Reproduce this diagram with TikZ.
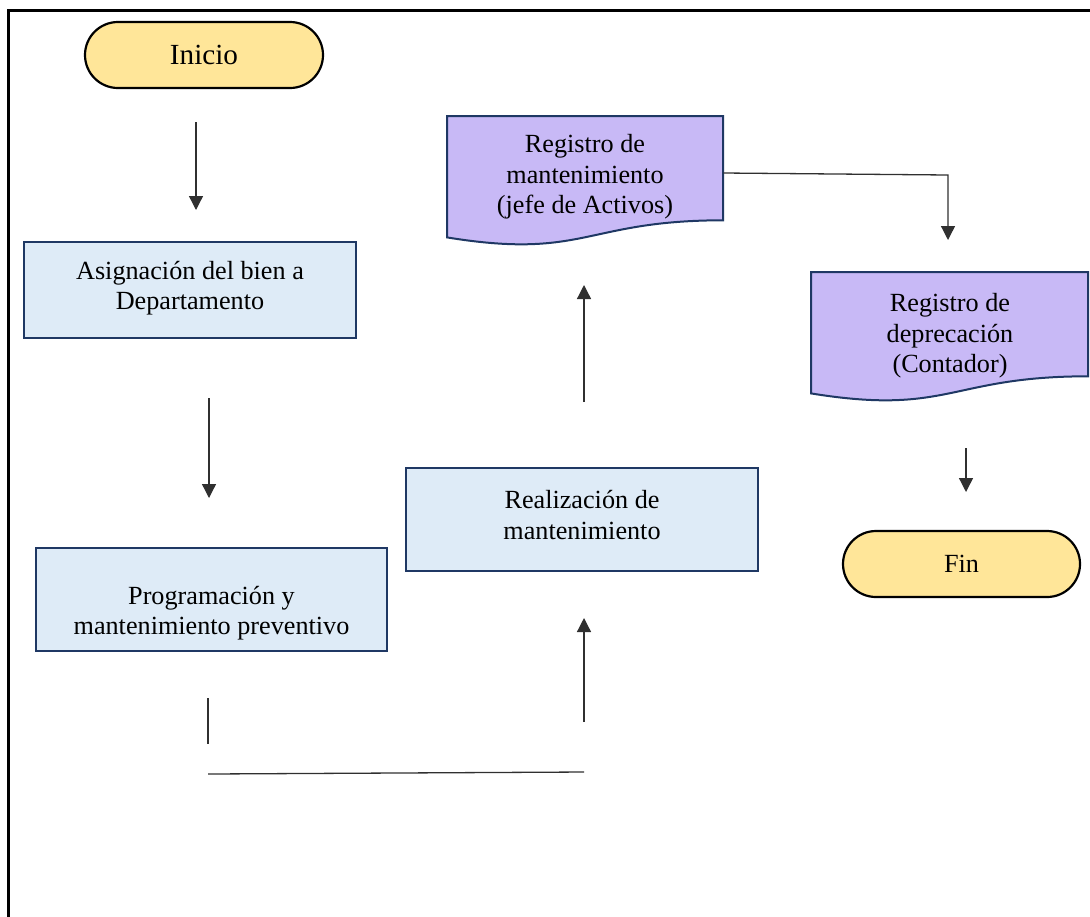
\documentclass[tikz,border=0pt]{standalone}
\usepackage{fontspec}
\setmainfont{Liberation Serif}
\usetikzlibrary{shapes.misc,arrows.meta,backgrounds}
\definecolor{termfill}{HTML}{FFE699}
\definecolor{procfill}{HTML}{DEEBF7}
\definecolor{navy}{HTML}{1F3864}
\definecolor{docfill}{HTML}{C8B9F6}
\definecolor{linegray}{HTML}{303030}
\tikzset{
  term/.style={rounded rectangle, draw=black, line width=1.1pt, fill=termfill, inner sep=0pt,
    font=\fontsize{13.1pt}{15.2pt}\selectfont},
  procbox/.style={rectangle, draw=navy, line width=1pt, fill=procfill, inner sep=0pt},
  docarea/.style={rectangle, draw=none, inner sep=0pt},
  docline/.style={draw=navy, line width=1pt, fill=docfill},
  txt/.style={align=center, inner sep=0pt, font=\fontsize{13.1pt}{15.2pt}\selectfont},
  conn/.style={draw=linegray, line width=0.65pt},
  arr/.style={conn, -{Triangle[length=7pt,width=7pt]}},
}
\begin{document}
\begin{tikzpicture}[x=0.5pt,y=-0.5pt]
\useasboundingbox (0,0) rectangle (1090,916);
\clip (0,0) rectangle (1090,916);
\draw[line width=1.3pt] (8.5,10.5) rectangle (1200,1000);

% terminators
\node[term, minimum width=119pt, minimum height=33pt, font=\fontsize{14.6pt}{16pt}\selectfont] (inicio) at (204,55) {Inicio};
\node[term, minimum width=118.5pt, minimum height=33pt] (fin) at (961.5,564) {Fin};

% process boxes
\node[procbox, minimum width=166pt, minimum height=48pt] (asig) at (190,290) {};
\node[txt] (asigt) at (190,288) {Asignación del bien a\\Departamento};

\node[procbox, minimum width=175.5pt, minimum height=51.5pt] (prog) at (211.5,599.5) {};
\node[txt] (progt) at (211.5,613) {Programación y\\mantenimiento preventivo};

\node[procbox, minimum width=176pt, minimum height=51.5pt] (real) at (582,519.5) {};
\node[txt] (realt) at (582,515) {Realización de\\mantenimiento};

% documents
\node[docarea, minimum width=138pt, minimum height=57pt] (d1) at (585,173) {};
\node[docarea, minimum width=138.5pt, minimum height=57pt] (d2) at (949.5,329) {};
\begin{scope}[on background layer]
\draw[docline] (447,116) -- (723,116) -- (723,220.3)
  .. controls (585,220.3) and (585,259.9) .. (447,237.4) -- cycle;
\draw[docline] (811,272) -- (1088,272) -- (1088,376.3)
  .. controls (949.5,376.3) and (949.5,415.9) .. (811,393.4) -- cycle;
\end{scope}
\node[txt] (d1t) at (585,177) {Registro de\\mantenimiento\\(jefe de Activos)};
\node[txt] (d2t) at (950,336) {Registro de\\deprecación\\(Contador)};

% connector end points
\coordinate (a1s) at (196,122);
\coordinate (a1e) at (196,210);
\coordinate (a2s) at (209,398);
\coordinate (a2e) at (209,498);
\coordinate (l1s) at (208,698);
\coordinate (l1e) at (208,744);
\coordinate (hs) at (208,774);
\coordinate (he) at (584,772);
\coordinate (a3s) at (584,722);
\coordinate (a3e) at (584,618);
\coordinate (a4s) at (584,402);
\coordinate (a4e) at (584,285);
\coordinate (bend) at (948,175);
\coordinate (a5e) at (948,240);
\coordinate (a6s) at (966,448);
\coordinate (a6e) at (966,492);

\draw[arr] (a1s) -- (a1e);
\draw[arr] (a2s) -- (a2e);
\draw[conn] (l1s) -- (l1e);
\draw[conn] (hs) -- (he);
\draw[arr] (a3s) -- (a3e);
\draw[arr] (a4s) -- (a4e);
\draw[arr] (d1.east) -- (bend) -- (a5e);
\draw[arr] (a6s) -- (a6e);
\end{tikzpicture}
\end{document}
